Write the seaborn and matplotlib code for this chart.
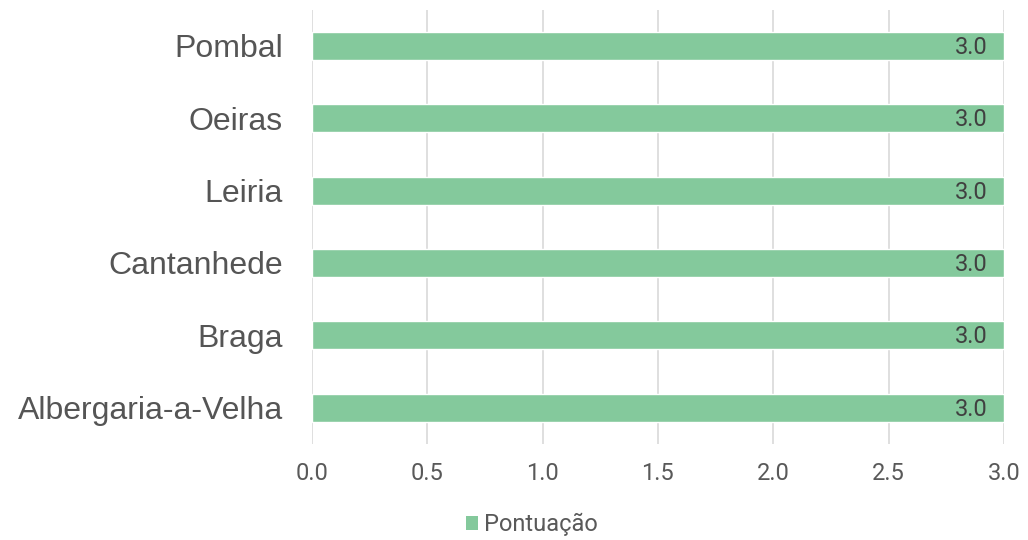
import matplotlib

matplotlib.use("Agg")

import matplotlib.pyplot as plt
import pandas as pd
import seaborn as sns
from matplotlib.patches import Patch

cities = ["Pombal", "Oeiras", "Leiria", "Cantanhede", "Braga", "Albergaria-a-Velha"]
scores = [3.0, 3.0, 3.0, 3.0, 3.0, 3.0]
xticks = [0.0, 0.5, 1.0, 1.5, 2.0, 2.5, 3.0]

BAR = "#84c99c"
GRID = "#d9d9d9"
NUMFONT = ["Roboto", "DejaVu Sans"]

sns.set_theme(style="white")
plt.rcParams["font.family"] = ["Liberation Sans", "DejaVu Sans"]

df = pd.DataFrame({"city": cities, "score": scores})

fig = plt.figure(figsize=(10.28, 5.4), dpi=100)
ax = fig.add_axes([0.3035, 0.178, 0.673, 0.804])
sns.barplot(data=df, x="score", y="city", order=cities, color=BAR,
            width=0.39, saturation=1, ax=ax, zorder=2)

ax.set_xlim(0, 3.0)
ax.set_xticks(xticks)
ax.set_xticklabels([f"{v:.1f}" for v in xticks], fontsize=17, color="#595959",
                   family=NUMFONT)
ax.tick_params(axis="x", length=0, pad=13)
ax.tick_params(axis="y", length=0, pad=21)
for lbl in ax.get_yticklabels():
    lbl.set_fontsize(23)
    lbl.set_color("#555555")
    lbl.set_family(["Liberation Sans", "DejaVu Sans"])
ax.set_xlabel("")
ax.set_ylabel("")
ax.grid(axis="x", color=GRID, lw=1.2, zorder=0)
ax.set_axisbelow(True)
for s in ax.spines.values():
    s.set_visible(False)

for i, v in enumerate(scores):
    ax.annotate(f"{v:.1f}", xy=(v, i), xytext=(-11.5, -1), textcoords="offset points",
                ha="right", va="center", fontsize=17, color="#404040",
                family=NUMFONT)

handle = Patch(facecolor=BAR, edgecolor="none", label="Pontuação")
fig.legend(handles=[handle], loc="center", bbox_to_anchor=(0.5175, 0.028), frameon=False,
           handlelength=0.5, handleheight=0.5, handletextpad=0.25,
           labelcolor="#595959", prop={"family": NUMFONT, "size": 17})

fig.savefig("out.png", dpi=100, facecolor="white")
